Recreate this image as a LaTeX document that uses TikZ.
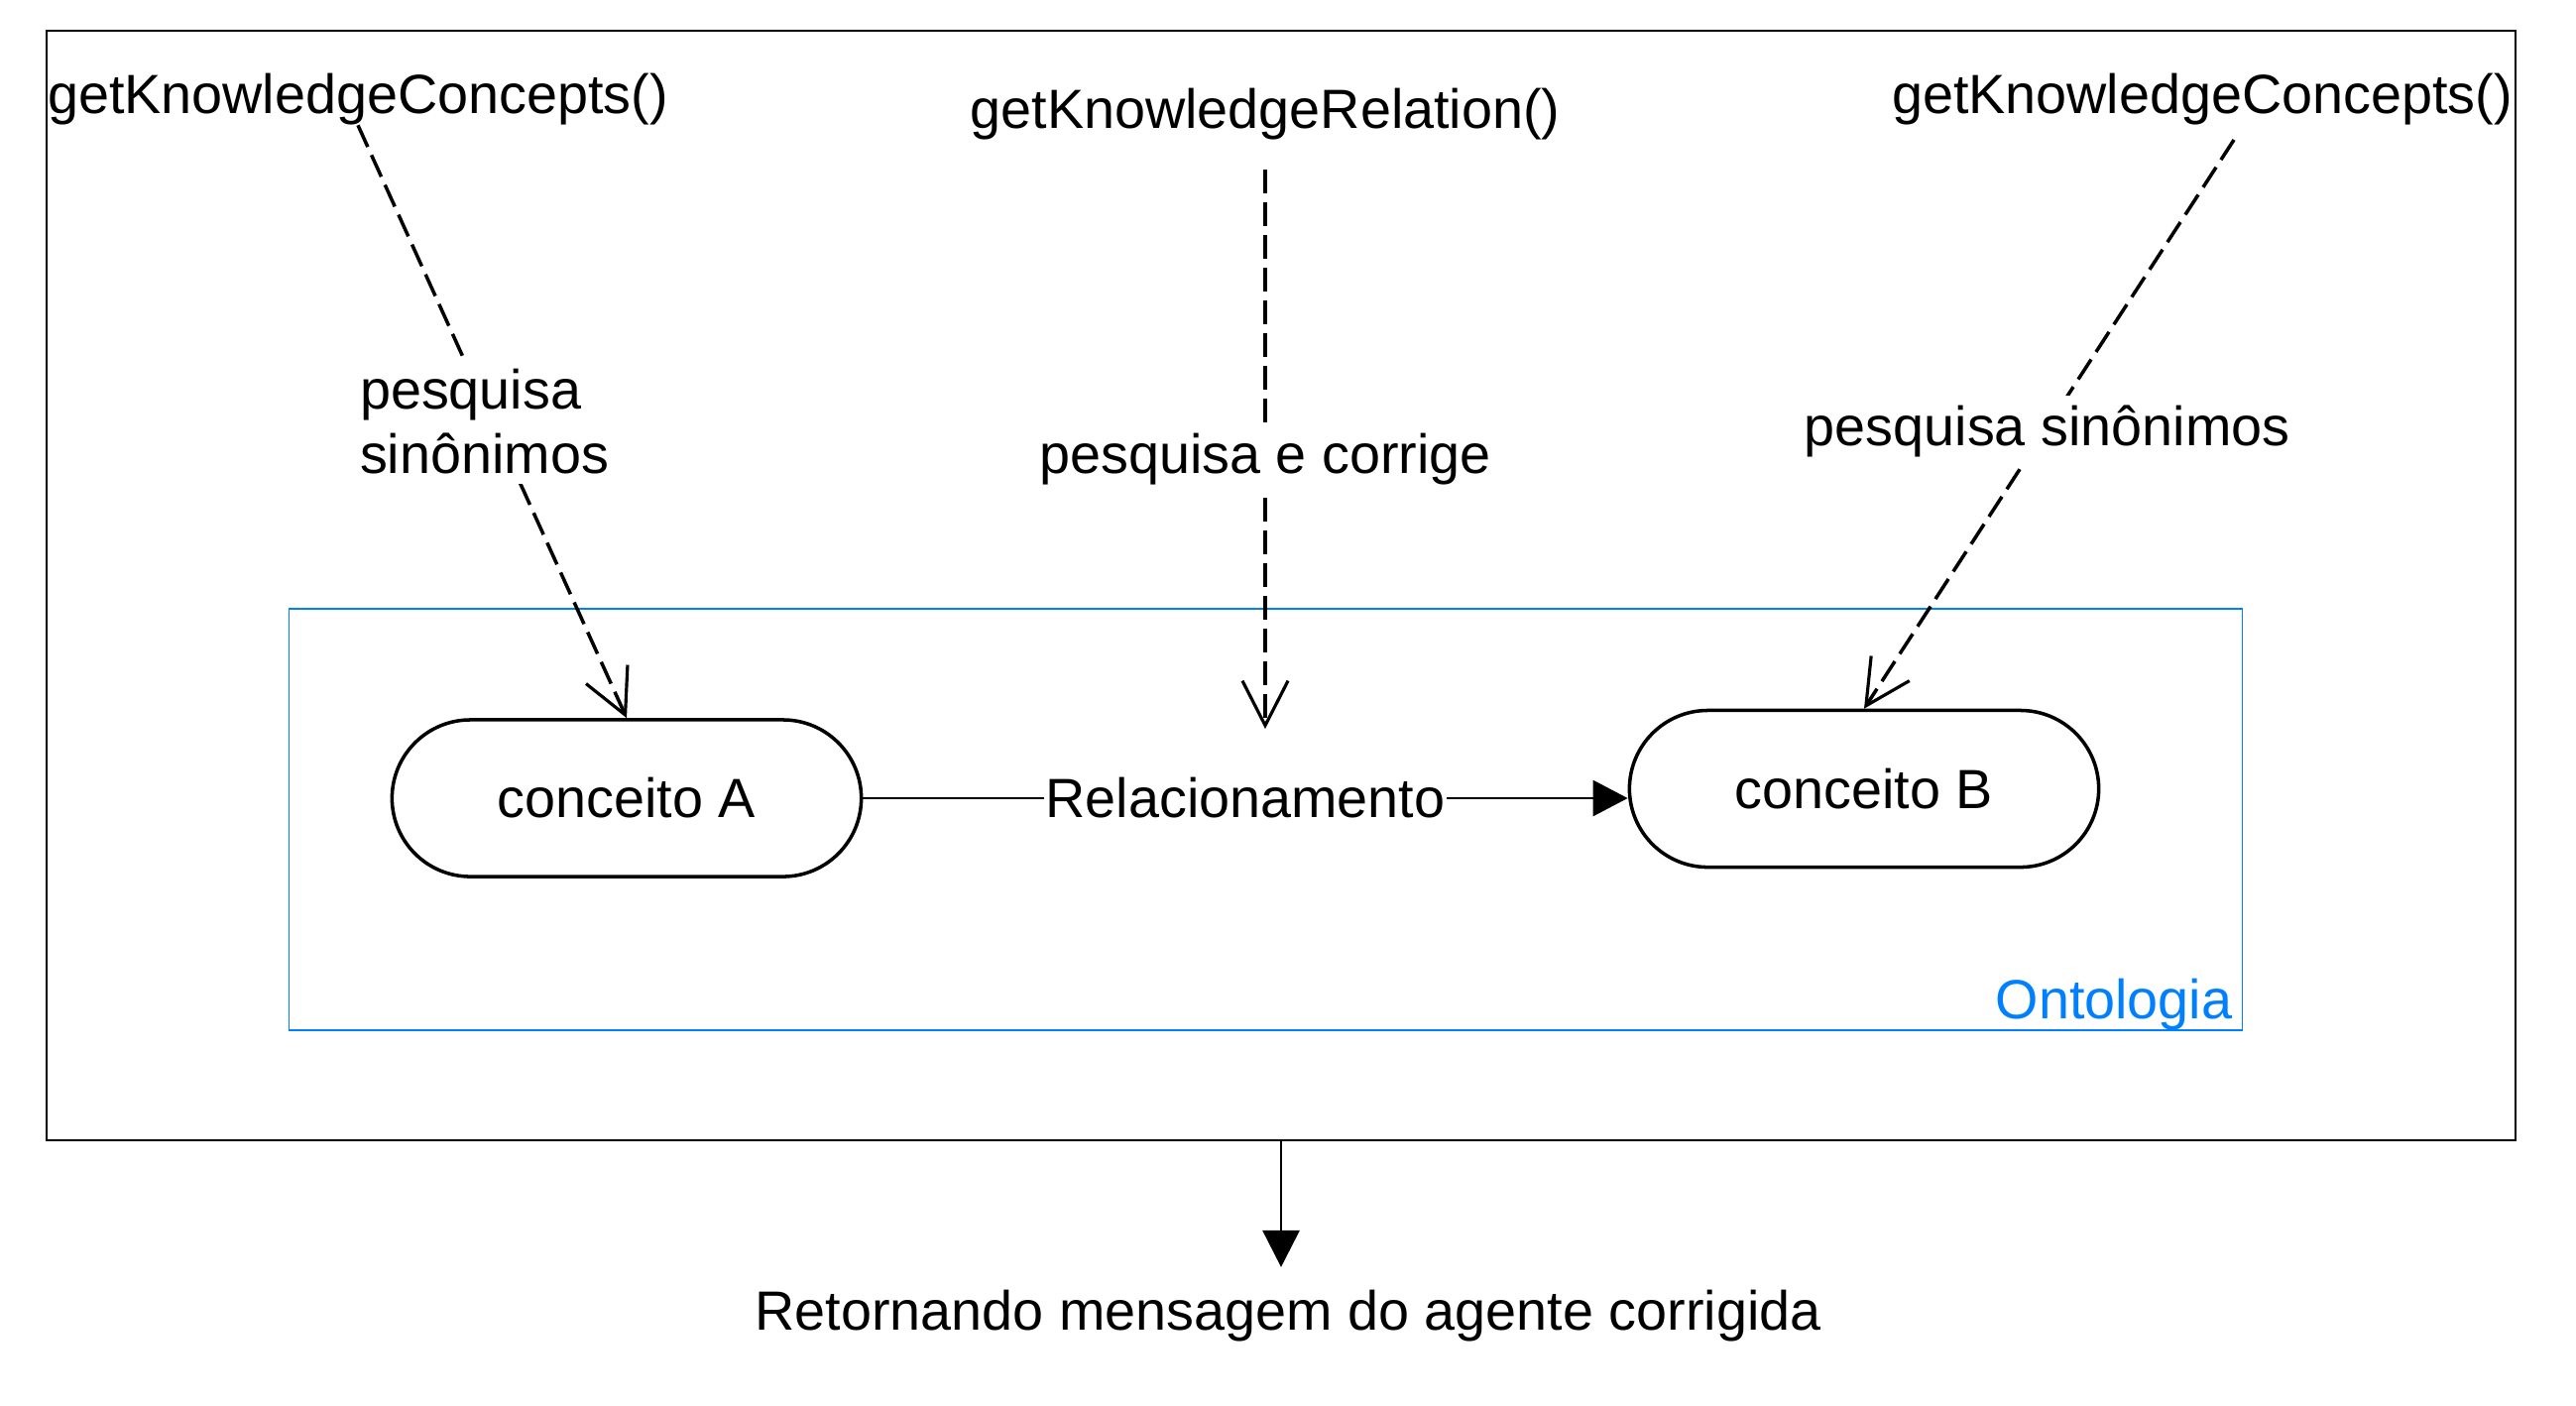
\documentclass[tikz,border=0pt]{standalone}
\usepackage{fontspec}
\setmainfont{Liberation Sans}
\usetikzlibrary{arrows.meta,calc}
\definecolor{ontoblue}{RGB}{0,128,255}
\begin{document}
\begin{tikzpicture}[x=0.01cm,y=-0.01cm,
  every node/.style={font=\fontsize{15.85pt}{18.5pt}\selectfont, inner sep=0pt},
  txt/.style={anchor=base},
  concept/.style={draw, line width=1pt, rounded corners=0.79cm, minimum width=4.73cm, minimum height=1.58cm},
  query/.style={dash pattern=on 0.24cm off 0.09cm, line width=1pt,
     -{Straight Barb[length=0.45cm,width=0.46cm,line width=0.9pt]}},
  lbl/.style={fill=white, inner sep=0.1cm},
  frame/.style={draw, line width=0.55pt, minimum width=24.88cm, minimum height=11.19cm},
  ontobox/.style={draw=ontoblue, line width=0.45pt, minimum width=19.69cm, minimum height=4.25cm},
  flow/.style={line width=0.8pt}]
\useasboundingbox (0,0) rectangle (2598,1417);
\node[frame] (outer) at (1292,590.5) {};
\node[ontobox] (onto) at (1276.5,826.5) {};
\node[anchor=base east, text=ontoblue] (ontolbl) at (2252,1027) {Ontologia};

\node[concept] (A) at (632,805) {conceito A};
\node[concept] (B) at (1880,795.5) {conceito B};

\node[txt] (g1) at (361,114) {getKnowledgeConcepts()};
\node[txt] (gr) at (1276,129) {getKnowledgeRelation()};
\node[txt] (g2) at (2221,114) {getKnowledgeConcepts()};
\coordinate (g2s) at (2253,141);
\node[txt] (ret) at (1299,1341) {Retornando mensagem do agente corrigida};

\draw[flow, -{Triangle[length=0.35cm,width=0.36cm]}] (A.east) --
  node[fill=white, inner xsep=0.02cm, inner ysep=0.05cm] (rel) {Relacionamento} (A.east -| B.west);

\draw[query] (g1.south) -- node[lbl, align=left, pos=0.5, xshift=-0.08cm] (l1) {pesquisa\\sinônimos} (A.north);
\draw[query, shorten <=0.3cm, shorten >=0.43cm] (gr.south) --
  node[lbl, pos=0.505] (l2) {pesquisa e corrige} (gr.south |- rel.north);
\draw[query] (g2s) -- node[lbl, pos=0.513, xshift=0.03cm] (l3) {pesquisa sinônimos} (B.north);

\draw[flow, shorten >=0.22cm, -{Triangle[length=0.37cm,width=0.37cm]}] (outer.south) -- (outer.south |- ret.north);
\end{tikzpicture}
\end{document}
